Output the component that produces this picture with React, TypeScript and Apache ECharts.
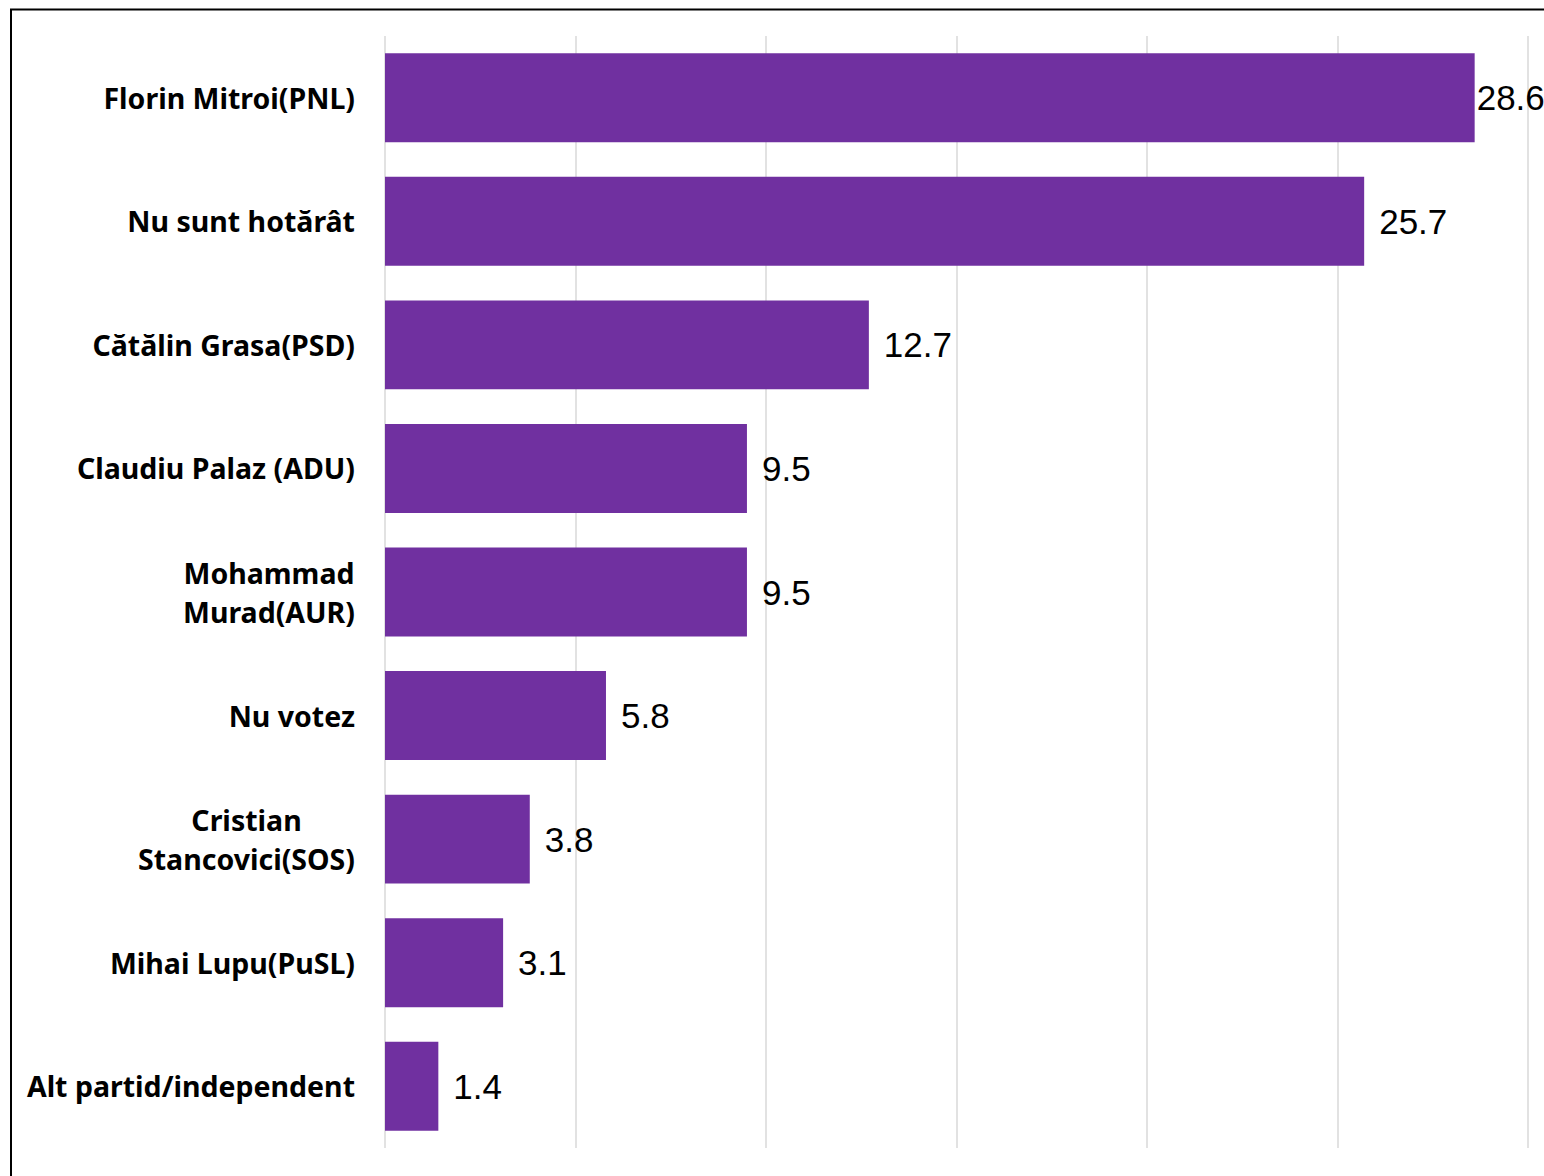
import React, { useEffect, useRef } from "react";
import * as echarts from "echarts";

const categories = [
  "Florin Mitroi(PNL)",
  "Nu sunt hotărât",
  "Cătălin Grasa(PSD)",
  "Claudiu Palaz (ADU)",
  "Mohammad\nMurad(AUR)",
  "Nu votez",
  "Cristian\nStancovici(SOS)",
  "Mihai Lupu(PuSL)",
  "Alt partid/independent",
];
const values = [28.6, 25.7, 12.7, 9.5, 9.5, 5.8, 3.8, 3.1, 1.4];
const axisMin = 0;
const axisMax = 30;
const axisStep = 5;

const LABEL_FONT = "'Noto Sans', 'Liberation Sans', Arial, sans-serif";
const LABEL_SIZE = 28.5;
const VALUE_FONT = "'Liberation Sans', Arial, sans-serif";

function measure(text: string): number {
  const c = document.createElement("canvas").getContext("2d");
  if (!c) return text.length * 16;
  c.font = `bold ${LABEL_SIZE}px ${LABEL_FONT}`;
  return c.measureText(text).width;
}

export default function App() {
  const ref = useRef<HTMLDivElement>(null);
  useEffect(() => {
    if (!ref.current) return;
    const chart = echarts.init(ref.current, undefined, { renderer: "svg" });
    const rich: Record<string, any> = {};
    const names: Record<string, string> = {};
    categories.forEach((cat, i) => {
      if (cat.includes("\n")) {
        const lines = cat.split("\n");
        const w = Math.ceil(Math.max(...lines.map(measure)));
        const key = "m" + i;
        rich[key] = {
          width: w,
          align: "center",
          fontFamily: LABEL_FONT,
          fontWeight: "bold",
          fontSize: LABEL_SIZE,
          lineHeight: 39,
          color: "#000",
        };
        names[cat] = lines.map((l) => `{${key}|${l}}`).join("\n");
      }
    });
    const seriesData = values.map((v, i) =>
      i === 0 ? { value: v, label: { distance: 2 } } : v
    );
    chart.setOption({
      animation: false,
      backgroundColor: "#fff",
      graphic: [
        {
          type: "rect",
          shape: { x: 11, y: 9.5, width: 1600, height: 1300 },
          style: { fill: "none", stroke: "#000", lineWidth: 2 },
          silent: true,
        },
      ],
      grid: { left: 385, right: 16, top: 36, bottom: 28, containLabel: false },
      xAxis: {
        type: "value",
        min: axisMin,
        max: axisMax,
        interval: axisStep,
        axisLabel: { show: false },
        axisLine: { show: false },
        axisTick: { show: false },
        splitLine: { show: true, lineStyle: { color: "#d9d9d9", width: 1.5 } },
      },
      yAxis: {
        type: "category",
        data: categories,
        inverse: true,
        axisLine: { show: false },
        axisTick: { show: false },
        axisLabel: {
          margin: 30,
          fontFamily: LABEL_FONT,
          fontWeight: "bold",
          fontSize: LABEL_SIZE,
          lineHeight: 39,
          color: "#000",
          align: "right",
          rich,
          formatter: (v: string) => names[v] || v,
        },
      },
      series: [
        {
          type: "bar",
          data: seriesData,
          barCategoryGap: "28%",
          itemStyle: { color: "#7030A0" },
          label: {
            show: true,
            position: "right",
            distance: 15,
            fontFamily: VALUE_FONT,
            fontSize: 35,
            color: "#000",
            formatter: (p: any) => Number(p.value).toFixed(1),
          },
        },
      ],
    });
    return () => chart.dispose();
  }, []);
  return (
    <div
      ref={ref}
      style={{ position: "absolute", left: 0, top: 0, width: 1544, height: 1176 }}
    />
  );
}
